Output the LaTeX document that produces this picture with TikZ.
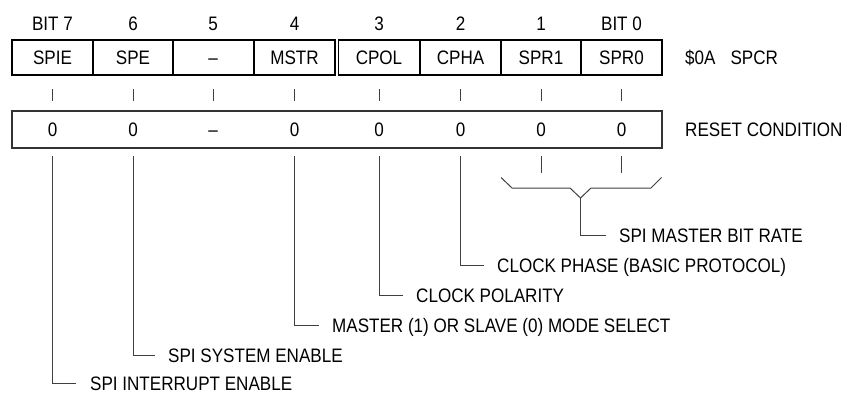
\documentclass[tikz,border=0pt]{standalone}
\usepackage{fontspec}
\setmainfont{Liberation Sans}[FakeStretch=0.875]
\usetikzlibrary{positioning, calc}
\tikzset{
  regcell/.style={
    rectangle,
    minimum width=81pt,
    minimum height=35pt,
    inner sep=0pt,
    text height=14pt,
    text depth=0pt,
    text centered,
    draw=black,
    line width=1.8pt
  },
  bitlabel/.style={
    inner sep=0pt,
    text height=14pt,
    text depth=0pt
  },
  lead/.style={
    draw=black!75,
    line width=1pt
  },
  caption/.style={
    anchor=west,
    inner sep=0pt,
    text height=14pt,
    text depth=0pt
  }
}

\begin{document}
\begin{tikzpicture}[x=1pt, y=-1pt, font=\fontsize{19.5}{23}\selectfont]
\useasboundingbox (0,0) rectangle (843,393);

% Register and reset row
\node (resetbox) [rectangle, draw=black!80, line width=1.2pt, minimum width=650pt, minimum height=37pt] at (337,129.5) {};
\foreach \name/\txt/\bit/\rst/\x in {spie/SPIE/BIT 7/0/52.5, spe/SPE/6/0/133, bfive/\textendash/5/\textendash/213,
  mstr/MSTR/4/0/294.5, cpol/CPOL/3/0/379, cpha/CPHA/2/0/460.5, spr1/SPR1/1/0/541, spr0/SPR0/BIT 0/0/621.5}
{
  \node (\name) [regcell] at (\x,57.5) {\txt};
  \node (\name-bit) [bitlabel, above=8pt of \name] {\bit};
  \node (\name-rst) [bitlabel] at (\x,129.5) {\rst};
  \draw [lead] ($(\name.south)+(0,13)$) -- ++(0,12);
}
\node (regname) [caption] at (685,57.5) {\$0A\hspace{15pt}SPCR};
\node (rstname) [caption] at (685,129.5) {RESET CONDITION};

% Captions
\coordinate (below) at (0,156);
\node (cap-rate) [caption] at (619,235.5) {SPI MASTER BIT RATE};
\node (cap-cpha) [caption] at (497,265.5) {CLOCK PHASE (BASIC PROTOCOL)};
\node (cap-cpol) [caption] at (416,295.5) {CLOCK POLARITY};
\node (cap-mstr) [caption] at (332,325.5) {MASTER (1) OR SLAVE (0) MODE SELECT};
\node (cap-spe) [caption] at (168,355.5) {SPI SYSTEM ENABLE};
\node (cap-spie) [caption] at (90,383.5) {SPI INTERRUPT ENABLE};

% Leaders
\draw [lead] (spie |- below) |- ([xshift=-14pt]cap-spie.west);
\draw [lead] (spe |- below) |- ([xshift=-13pt]cap-spe.west);
\draw [lead] (mstr |- below) |- ([xshift=-13pt]cap-mstr.west);
\draw [lead] (cpol |- below) |- ([xshift=-13pt]cap-cpol.west);
\draw [lead] (cpha |- below) |- ([xshift=-13pt]cap-cpha.west);
\draw [lead] (spr1 |- below) -- ++(0,17);
\draw [lead] (spr0 |- below) -- ++(0,17);
\coordinate (rate) at (580.5,198);
\draw [lead] (501,177.5) -- (512,188) -- (570,188) -- (rate) -- (591,188) -- (651,188) -- (661.5,177.5);
\draw [lead] (rate) |- ([xshift=-13pt]cap-rate.west);
\end{tikzpicture}
\end{document}
